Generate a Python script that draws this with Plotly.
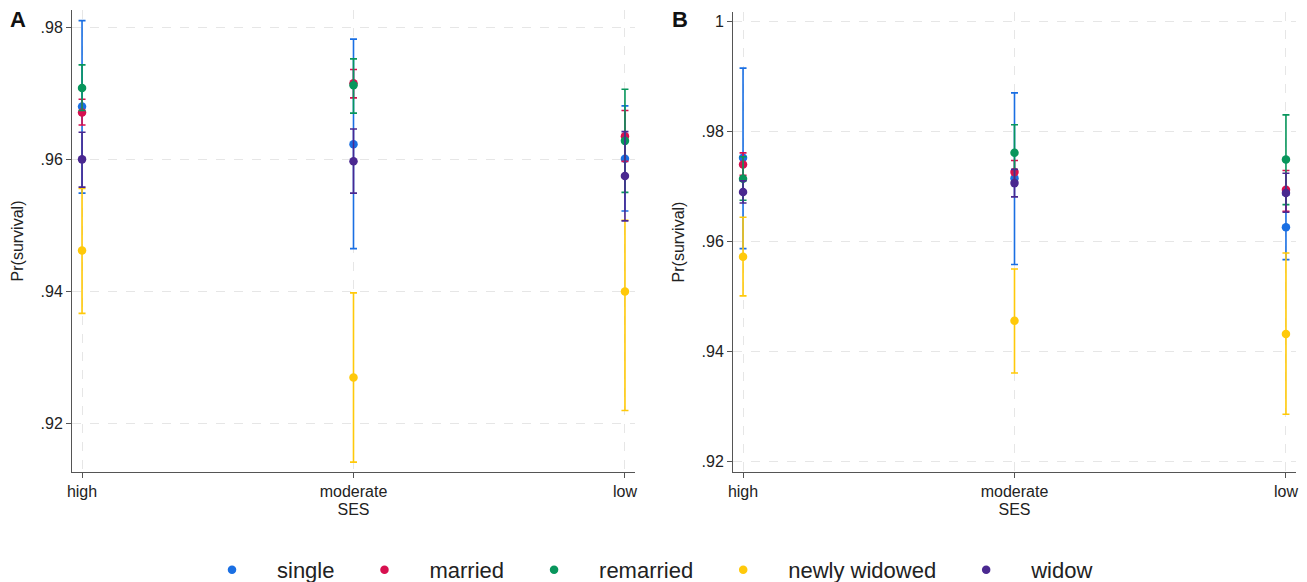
import plotly.graph_objects as go

ses = ["high", "moderate", "low"]
groups = ["single", "married", "remarried", "newly widowed", "widow"]
colors = ["#1a6fe3", "#d70f4f", "#08965c", "#ffc90a", "#4a2890"]

# Panel A estimates, lower and upper CI (per SES: high, moderate, low)
a_single_est = [0.9680, 0.9623, 0.9601]
a_single_lo = [0.9549, 0.9465, 0.9522]
a_single_hi = [0.9810, 0.9782, 0.9681]
a_married_est = [0.9671, 0.9715, 0.9635]
a_married_lo = [0.9652, 0.9693, 0.9597]
a_married_hi = [0.9691, 0.9736, 0.9674]
a_remarried_est = [0.9708, 0.9712, 0.9628]
a_remarried_lo = [0.9674, 0.9670, 0.9550]
a_remarried_hi = [0.9743, 0.9752, 0.9706]
a_newwid_est = [0.9462, 0.9270, 0.9400]
a_newwid_lo = [0.9367, 0.9142, 0.9220]
a_newwid_hi = [0.9556, 0.9398, 0.9508]
a_widow_est = [0.9600, 0.9597, 0.9575]
a_widow_lo = [0.9558, 0.9549, 0.9507]
a_widow_hi = [0.9641, 0.9646, 0.9642]

# Panel B
b_single_est = [0.9752, 0.9715, 0.9626]
b_single_lo = [0.9587, 0.9558, 0.9567]
b_single_hi = [0.9915, 0.9870, 0.9684]
b_married_est = [0.9740, 0.9726, 0.9694]
b_married_lo = [0.9720, 0.9705, 0.9655]
b_married_hi = [0.9761, 0.9747, 0.9729]
b_remarried_est = [0.9714, 0.9761, 0.9749]
b_remarried_lo = [0.9675, 0.9710, 0.9667]
b_remarried_hi = [0.9754, 0.9812, 0.9830]
b_newwid_est = [0.9572, 0.9456, 0.9432]
b_newwid_lo = [0.9501, 0.9361, 0.9286]
b_newwid_hi = [0.9644, 0.9550, 0.9579]
b_widow_est = [0.9690, 0.9706, 0.9688]
b_widow_lo = [0.9670, 0.9681, 0.9653]
b_widow_hi = [0.9710, 0.9731, 0.9724]

a_yticks = [0.92, 0.94, 0.96, 0.98]
a_yticktext = [".92", ".94", ".96", ".98"]
b_yticks = [0.92, 0.94, 0.96, 0.98, 1.0]
b_yticktext = [".92", ".94", ".96", ".98", "1"]

panel_a = [
    (a_single_est, a_single_lo, a_single_hi),
    (a_married_est, a_married_lo, a_married_hi),
    (a_remarried_est, a_remarried_lo, a_remarried_hi),
    (a_newwid_est, a_newwid_lo, a_newwid_hi),
    (a_widow_est, a_widow_lo, a_widow_hi),
]
panel_b = [
    (b_single_est, b_single_lo, b_single_hi),
    (b_married_est, b_married_lo, b_married_hi),
    (b_remarried_est, b_remarried_lo, b_remarried_hi),
    (b_newwid_est, b_newwid_lo, b_newwid_hi),
    (b_widow_est, b_widow_lo, b_widow_hi),
]

FONT = "Liberation Sans, Arial, sans-serif"
W, H = 1307, 582

fig = go.Figure()


def add_panel(data, xa, ya, showlegend):
    for name, color, (est, lo, hi) in zip(groups, colors, data):
        fig.add_trace(go.Scatter(
            x=ses, y=est, mode="markers", name=name,
            marker=dict(color=color, size=8.5),
            error_y=dict(type="data", symmetric=False,
                         array=[h - e for h, e in zip(hi, est)],
                         arrayminus=[e - l for e, l in zip(est, lo)],
                         color=color, thickness=1.6, width=3.5),
            xaxis=xa, yaxis=ya, showlegend=showlegend, legendgroup=name,
        ))


add_panel(panel_a, "x", "y", True)
add_panel(panel_b, "x2", "y2", False)

grid = "#e6e6e6"
axcol = "#555555"
xcommon = dict(type="category", range=[-0.037, 2.037], showgrid=True, gridcolor=grid,
               griddash="dash", gridwidth=1, showline=True, linecolor=axcol, linewidth=1,
               ticks="outside", ticklen=5, tickcolor=axcol, zeroline=False, automargin=False,
               tickfont=dict(family=FONT, size=16, color="#222"),
               title=dict(text="SES", font=dict(family=FONT, size=16, color="#222"), standoff=4))
ycommon = dict(showgrid=True, gridcolor=grid, griddash="dash", gridwidth=1,
               showline=True, linecolor=axcol, linewidth=1, ticks="outside", ticklen=5,
               tickcolor=axcol, zeroline=False, automargin=False,
               tickfont=dict(family=FONT, size=16, color="#222"),
               title=dict(text="Pr(survival)", font=dict(family=FONT, size=16, color="#222"), standoff=12))

top = (H - 10) / H
bot = (H - 472) / H
fig.update_layout(
    width=W, height=H,
    margin=dict(l=0, r=0, t=0, b=0, autoexpand=False),
    paper_bgcolor="white", plot_bgcolor="white",
    font=dict(family=FONT, color="#222"),
    xaxis=dict(domain=[72 / W, 635 / W], anchor="y", **xcommon),
    yaxis=dict(domain=[bot, top], anchor="x", range=[0.9127, 0.9826],
               tickvals=a_yticks, ticktext=a_yticktext, **ycommon),
    xaxis2=dict(domain=[733 / W, 1296 / W], anchor="y2", **xcommon),
    yaxis2=dict(domain=[bot, (H - 12) / H], anchor="x2", range=[0.9181, 1.0017],
                tickvals=b_yticks, ticktext=b_yticktext, **ycommon),
    legend=dict(orientation="h", x=643 / W, xanchor="center", y=(H - 570) / H, yanchor="middle",
                font=dict(family=FONT, size=22, color="#222"), itemwidth=80,
                bgcolor="rgba(0,0,0,0)"),
    annotations=[
        dict(text="<b>A</b>", x=18 / W, y=(H - 20) / H, xref="paper", yref="paper",
             xanchor="center", yanchor="middle",
             showarrow=False, font=dict(family=FONT, size=22, color="#111")),
        dict(text="<b>B</b>", x=680 / W, y=(H - 20) / H, xref="paper", yref="paper",
             xanchor="center", yanchor="middle",
             showarrow=False, font=dict(family=FONT, size=22, color="#111")),
    ],
)

fig.write_html("out.html", config={"displayModeBar": False},
               post_script="document.body.style.margin='0';")
